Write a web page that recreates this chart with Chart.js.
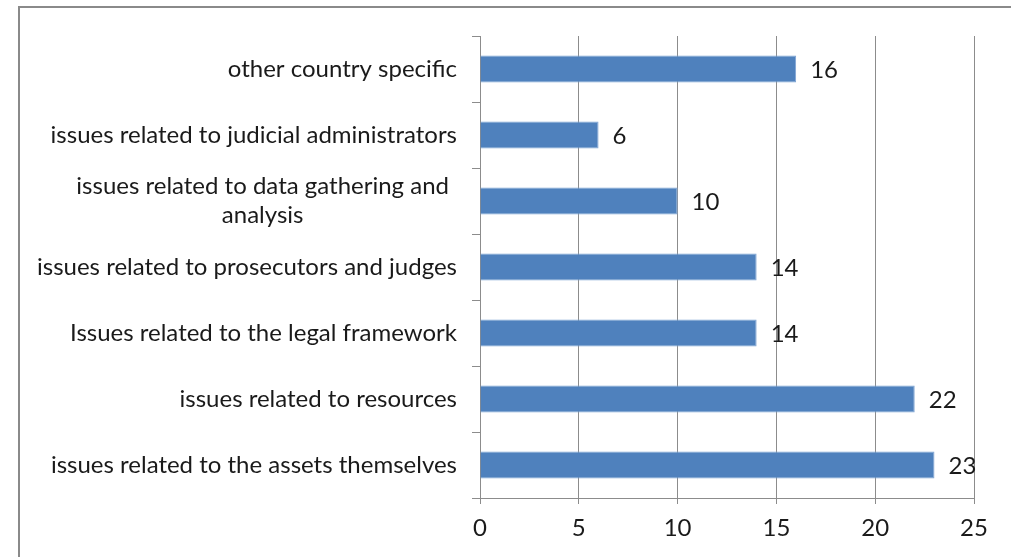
<!DOCTYPE html>
<html>
<head>
<meta charset="utf-8">
<script src="https://cdn.jsdelivr.net/npm/chart.js@4/dist/chart.umd.min.js"></script>
<style>
  html, body { margin: 0; padding: 0; background: #fff; }
  #wrap { width: 1011px; height: 557px; position: relative; }
</style>
</head>
<body>
<div id="wrap"><canvas id="barChart" width="1011" height="557"></canvas></div>
<script>
var categories = [
    "other country specific",
    "issues related to judicial administrators",
    ["issues related to data gathering and", "analysis"],
    "issues related to prosecutors and judges",
    "Issues related to the legal framework",
    "issues related to resources",
    "issues related to the assets themselves"
];
var counts = [16, 6, 10, 14, 14, 22, 23];
var xTicks = [0, 5, 10, 15, 20, 25];

var FONT = "Lato, 'Open Sans', sans-serif";
var FSIZE = 24;
var TEXT = '#1a1a1a';
var GRID = '#8c8c8c';

// outer frame, only left and top edges are inside the canvas
var framePlugin = {
    id: 'frame',
    beforeDraw: function (chart) {
        var c = chart.ctx;
        c.save();
        c.strokeStyle = '#8a8a8a';
        c.lineWidth = 2;
        c.beginPath();
        c.moveTo(19, 557);
        c.lineTo(19, 7);
        c.lineTo(1011, 7);
        c.stroke();
        c.restore();
    }
};

// category names, wrapped lines centred on each other
var catLabels = {
    id: 'catLabels',
    afterDraw: function (chart) {
        var c = chart.ctx;
        var y = chart.scales.y;
        var right = 457;
        c.save();
        c.font = FSIZE + 'px ' + FONT;
        c.fillStyle = TEXT;
        c.textBaseline = 'middle';
        categories.forEach(function (lab, i) {
            var py = y.getPixelForValue(i);
            if (Array.isArray(lab)) {
                var w = Math.max.apply(null, lab.map(function (l) { return c.measureText(l).width; }));
                var cx = right - 8 - w / 2;
                c.textAlign = 'center';
                var lh = 29;
                lab.forEach(function (l, k) {
                    c.fillText(l, cx, py + (k - (lab.length - 1) / 2) * lh);
                });
            } else {
                c.textAlign = 'right';
                c.fillText(lab, right, py);
            }
        });
        c.restore();
    }
};

// value next to the end of each bar
var valueLabels = {
    id: 'valueLabels',
    afterDatasetsDraw: function (chart) {
        var c = chart.ctx;
        var meta = chart.getDatasetMeta(0);
        c.save();
        c.font = FSIZE + 'px ' + FONT;
        c.fillStyle = TEXT;
        c.textAlign = 'left';
        c.textBaseline = 'middle';
        meta.data.forEach(function (bar, i) {
            c.fillText(String(counts[i]), bar.x + 14, bar.y + 1);
        });
        c.restore();
    }
};

var ctx = document.getElementById('barChart').getContext('2d');
var myChart = new Chart(ctx, {
    type: 'bar',
    data: {
        labels: categories,
        datasets: [{
            data: counts,
            backgroundColor: '#4f81bd',
            borderColor: '#7ea3d3',
            borderWidth: 1,
            barPercentage: 0.82,
            categoryPercentage: 0.5
        }]
    },
    options: {
        indexAxis: 'y',
        responsive: false,
        animation: false,
        layout: { padding: { top: 36, right: 37, left: 0, bottom: 0 } },
        plugins: {
            legend: { display: false },
            tooltip: { enabled: false }
        },
        scales: {
            x: {
                min: 0,
                max: 25,
                afterBuildTicks: function (scale) {
                    scale.ticks = xTicks.map(function (v) { return { value: v }; });
                },
                afterFit: function (scale) { scale.height = 59; },
                grid: { color: GRID, lineWidth: 1, tickLength: 6 },
                border: { color: GRID, width: 1 },
                ticks: {
                    color: TEXT,
                    padding: 10,
                    maxRotation: 0,
                    font: { family: FONT, size: FSIZE }
                }
            },
            y: {
                afterFit: function (scale) { scale.width = 480; },
                grid: { offset: true, drawOnChartArea: false, color: GRID, tickLength: 8 },
                border: { color: GRID, width: 1 },
                ticks: { display: false }
            }
        }
    },
    plugins: [framePlugin, catLabels, valueLabels]
});
</script>
</body>
</html>
